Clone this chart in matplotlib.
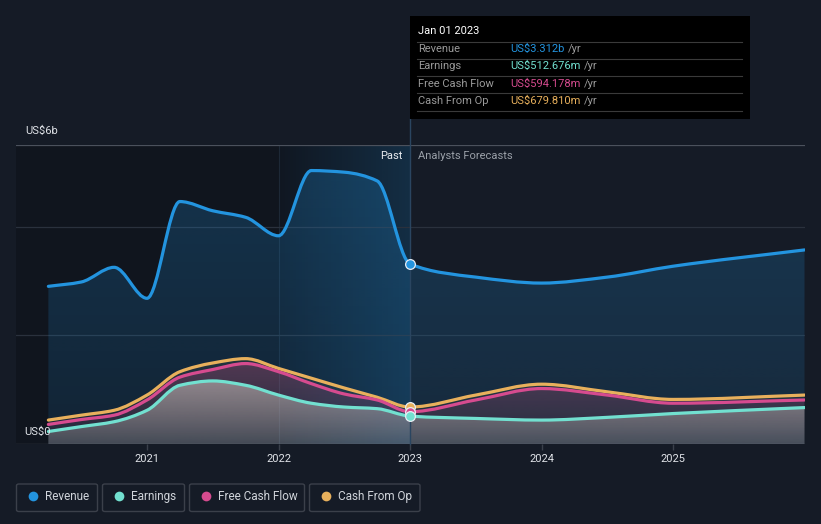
import numpy as np
import matplotlib.pyplot as plt
from matplotlib.path import Path
from matplotlib.patches import PathPatch, FancyBboxPatch, Rectangle
from matplotlib.lines import Line2D
from matplotlib.colors import to_rgb

plt.rcParams['font.family'] = ['Roboto', 'DejaVu Sans']

# data (US$ billions, fractional years)
past_dates = [2020.25, 2020.5, 2020.75, 2021.0, 2021.25, 2021.5, 2021.75,
              2022.0, 2022.25, 2022.5, 2022.75, 2023.0]
revenue_past = [2.90, 2.98, 3.25, 2.68, 4.46, 4.29, 4.17, 3.83, 5.03, 5.00, 4.84, 3.312]
earnings_past = [0.23, 0.32, 0.41, 0.62, 1.08, 1.16, 1.08, 0.90, 0.75, 0.68, 0.65, 0.513]
fcf_past = [0.36, 0.45, 0.53, 0.81, 1.23, 1.37, 1.48, 1.33, 1.11, 0.92, 0.81, 0.594]
cfo_past = [0.44, 0.53, 0.62, 0.90, 1.33, 1.49, 1.57, 1.39, 1.21, 1.03, 0.86, 0.680]

fc_dates = [2023.0, 2023.5, 2024.0, 2024.5, 2025.0, 2026.0]
revenue_fc = [3.312, 3.07, 2.96, 3.07, 3.27, 3.57]
earnings_fc = [0.513, 0.47, 0.44, 0.49, 0.56, 0.67]
fcf_fc = [0.594, 0.81, 1.02, 0.90, 0.75, 0.81]
cfo_fc = [0.680, 0.90, 1.10, 0.96, 0.82, 0.90]

names = ['Revenue', 'Earnings', 'Free Cash Flow', 'Cash From Op']
colors = ['#2394df', '#72e0d0', '#d64b8f', '#e8b05c']
tip_values = ['US$3.312b', 'US$512.676m', 'US$594.178m', 'US$679.810m']

year_ticks = [2021, 2022, 2023, 2024, 2025]

BG = '#151b26'
W, H = 821, 524


def monotone_path(xs, ys, close=False):
    # monotone cubic (like d3 curveMonotoneX) as bezier segments
    xs = np.asarray(xs, float)
    ys = np.asarray(ys, float)
    n = len(xs)
    h = np.diff(xs)
    d = np.diff(ys) / h
    m = np.zeros(n)
    m[0] = d[0]
    m[-1] = d[-1]
    for i in range(1, n - 1):
        if d[i - 1] * d[i] > 0:
            m[i] = 3 * (h[i - 1] + h[i]) / ((2 * h[i] + h[i - 1]) / d[i - 1] +
                                            (h[i] + 2 * h[i - 1]) / d[i])
    verts = [(xs[0], ys[0])]
    codes = [Path.MOVETO]
    for i in range(n - 1):
        verts += [(xs[i] + h[i] / 3, ys[i] + m[i] * h[i] / 3),
                  (xs[i + 1] - h[i] / 3, ys[i + 1] - m[i + 1] * h[i] / 3),
                  (xs[i + 1], ys[i + 1])]
        codes += [Path.CURVE4] * 3
    if close:
        verts += [(xs[-1], 0), (xs[0], 0), (xs[0], ys[0])]
        codes += [Path.LINETO, Path.LINETO, Path.CLOSEPOLY]
    return Path(verts, codes)


def grad_fill(ax, xs, ys, color, a_top, a_bot, z):
    patch = PathPatch(monotone_path(xs, ys, close=True), facecolor='none', edgecolor='none')
    ax.add_patch(patch)
    rgba = np.zeros((200, 1, 4))
    rgba[:, :, :3] = to_rgb(color)
    rgba[:, 0, 3] = np.linspace(a_top, a_bot, 200)
    im = ax.imshow(rgba, extent=(min(xs), max(xs), 0, max(ys)), aspect='auto',
                   origin='upper', zorder=z, interpolation='bilinear')
    im.set_clip_path(patch)


def fx(px):
    return px / W


def fy(py):
    return 1 - py / H


fig = plt.figure(figsize=(8.21, 5.24), dpi=100, facecolor=BG)
ax = fig.add_axes([fx(15.5), fy(444), fx(804.5) - fx(15.5), fy(145) - fy(444)])
ax.set_facecolor(BG)
for s in ax.spines.values():
    s.set_visible(False)

# past region and highlighted last year
ax.axvspan(2020, 2023, color='#10151e', zorder=0, lw=0)
band = np.zeros((1, 200, 4))
band[:, :, :3] = to_rgb('#2394df')
band[0, :, 3] = np.linspace(0.02, 0.2, 200)
ax.imshow(band, extent=(2022, 2023, 0, 5.5), aspect='auto', zorder=0.5, interpolation='bilinear')
ax.axvline(2022, color='#1d2836', lw=0.8, zorder=0.6)

# gridlines
for v in [2, 4]:
    ax.axhline(v, color='#2a313d', lw=0.9, zorder=1)
ax.axhline(5.5, color='#4b515c', lw=0.9, zorder=1)
ax.axhline(0, color='#3a404b', lw=1.0, zorder=1)

all_dates = past_dates + fc_dates[1:]
series = [revenue_past + revenue_fc[1:], earnings_past + earnings_fc[1:],
          fcf_past + fcf_fc[1:], cfo_past + cfo_fc[1:]]

grad_fill(ax, all_dates, series[0], '#2394df', 0.24, 0.12, 2)
grad_fill(ax, all_dates, series[3], '#e8b05c', 0.08, 0.03, 3)
grad_fill(ax, all_dates, series[2], '#d64b8f', 0.26, 0.04, 4)
grad_fill(ax, all_dates, series[1], '#cdc9c0', 0.55, 0.22, 5)

for k in [3, 2, 1, 0]:
    p = PathPatch(monotone_path(all_dates, series[k]), facecolor='none',
                  edgecolor=colors[k], lw=2.3, zorder=6 + (3 - k) * 0.1, capstyle='round')
    ax.add_patch(p)

# marker line at Jan 2023
ax.add_line(Line2D([2023, 2023], [0, 5.5 + 26 / 54.4], color='#2a4560', lw=1.0,
                   zorder=5.5, clip_on=False))
for k in [3, 2, 1, 0]:
    ax.plot(2023, series[k][len(past_dates) - 1], 'o', ms=7, mfc=colors[k],
            mec='#e8eef5', mew=0.9, zorder=8)

ax.set_xlim(2020, 2026)
ax.set_ylim(0, 5.5)
ax.set_yticks([])
ax.set_xticks(year_ticks)
ax.set_xticklabels([str(y) for y in year_ticks])
ax.tick_params(axis='x', colors='#3a404b', length=4, width=1, labelcolor='#e0e3e8',
               labelsize=8, pad=3)

# y labels
fig.text(fx(25), fy(131), 'US$6b', color='#e0e3e8', fontsize=8, va='center', ha='left')
fig.text(fx(24), fy(432), 'US$0', color='#e0e3e8', fontsize=8, va='center', ha='left')

fig.text(fx(402), fy(156), 'Past', color='#e8ebef', fontsize=8, va='center', ha='right')
fig.text(fx(418), fy(156), 'Analysts Forecasts', color='#9aa0a8', fontsize=8,
         va='center', ha='left')

# tooltip
fig.patches.append(Rectangle((fx(410), fy(119)), fx(750) - fx(410), fy(16) - fy(119),
                             transform=fig.transFigure, facecolor='#000000',
                             edgecolor='none', zorder=10))
fig.text(fx(418), fy(31), 'Jan 01 2023', color='#ffffff', fontsize=8, va='center',
         ha='left', zorder=11)
for yy in [41.5, 58.5, 76, 93, 111]:
    fig.add_artist(Line2D([fx(417), fx(742)], [fy(yy), fy(yy)], color='#3a3a3a',
                          lw=0.8, zorder=11))
fig.canvas.draw()
for k, yy in enumerate([49, 66, 84, 101]):
    fig.text(fx(418), fy(yy), names[k], color='#9a9a9a', fontsize=8, va='center',
             ha='left', zorder=11)
    t = fig.text(fx(510), fy(yy), tip_values[k], color=colors[k], fontsize=8,
                 va='center', ha='left', zorder=11)
    bb = t.get_window_extent(renderer=fig.canvas.get_renderer())
    fig.text((bb.x1 + 4) / W, fy(yy), '/yr', color='#9a9a9a', fontsize=8,
             va='center', ha='left', zorder=11)

# legend
boxes = [(16.5, 97.5), (102.5, 184.5), (189.5, 304.5), (309.5, 420)]
for k, (x0, x1) in enumerate(boxes):
    fig.patches.append(FancyBboxPatch((fx(x0), fy(511.5)), fx(x1) - fx(x0),
                                      fy(484) - fy(511.5),
                                      boxstyle='round,pad=0,rounding_size=0.003',
                                      transform=fig.transFigure, facecolor='none',
                                      edgecolor='#3b404a', lw=1.0))
    fig.add_artist(Line2D([fx(x0 + 16)], [fy(496)], marker='o', ms=7, color=colors[k],
                          mec='none', linestyle='none'))
    fig.text(fx(x0 + 28), fy(496.5), names[k], color='#d0d4da', fontsize=8.5,
             va='center', ha='left')

fig.savefig('out.png', dpi=100, facecolor=BG)
